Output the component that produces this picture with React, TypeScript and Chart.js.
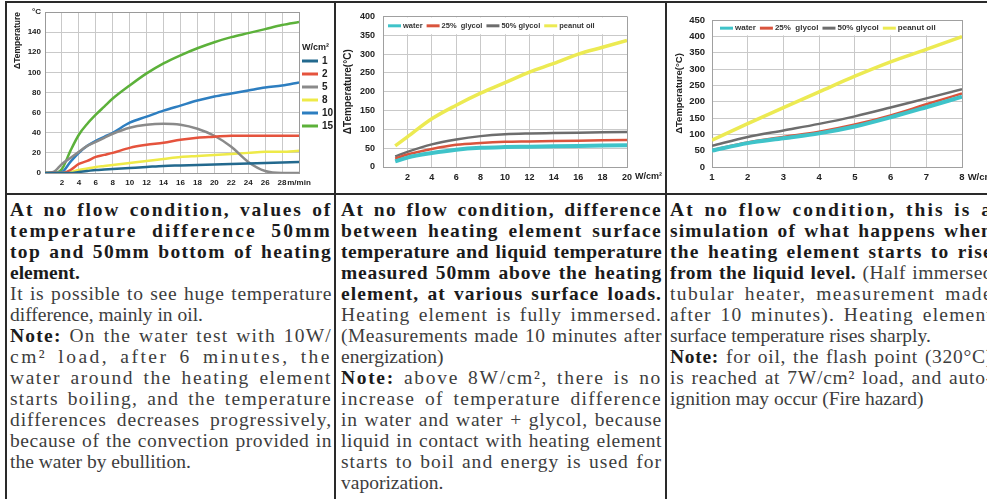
import React, { useEffect, useLayoutEffect, useRef } from "react";
import { Chart, registerables } from "chart.js";

Chart.register(...registerables);

const SANS = '"Liberation Sans", Arial, Helvetica, sans-serif';
const SERIF = '"Liberation Serif", "Times New Roman", serif';

// ---------- Chart 1: no flow, temperature difference vs time ----------
const flowTimes = [0, 1, 2, 3, 4, 5, 6, 7, 8, 10, 12, 14, 16, 18, 20, 22, 24, 26, 28, 30];
const loadLabels = ["1", "2", "5", "8", "10", "15"];
const load1 = [0, 0, 0, 0, 1, 2, 3, 3.5, 4, 5, 6, 7, 7.5, 8, 8.5, 9, 9.5, 10, 10.5, 11];
const load2 = [0, 0, 0, 3, 9, 12, 16, 18, 20, 25, 28, 30, 33, 35, 36, 37, 37, 37, 37, 37];
const load5 = [0, 1, 9, 15, 21, 27, 31, 35, 39, 45, 48, 49, 48, 44, 37, 26, 11, 2, 0, 0];
const load8 = [0, 0, 0, 1, 3, 4.5, 6, 7, 8, 10, 12, 14, 16, 17, 18, 19, 20, 21, 21, 22];
const load10 = [0, 0, 1, 11, 20, 27, 32, 36, 40, 50, 56, 62, 67, 72, 76, 79, 82, 85, 87, 90];
const load15 = [0, 0, 4, 22, 38, 49, 58, 66, 74, 87, 99, 109, 117, 124, 130, 135, 139, 143, 147, 150];

// ---------- Chart 2: fully immersed ----------
const immersedLoads = [1, 2, 4, 6, 8, 10, 12, 14, 16, 18, 20];
const liquidLabels = ["water", "25%  glycol", "50% glycol", "peanut oil"];
const immersedWater = [15, 25, 37, 46, 51, 53, 54, 55, 56, 57, 58];
const immersedGlycol25 = [22, 33, 48, 59, 64, 67, 68, 69, 70, 71, 72];
const immersedGlycol50 = [28, 40, 60, 73, 82, 87, 89, 90, 91, 92, 93];
const immersedOil = [56, 80, 128, 164, 196, 224, 252, 275, 300, 318, 336];

// ---------- Chart 3: half immersed ----------
const halfLoads = [1, 2, 3, 4, 5, 6, 7, 8];
const halfWater = [50, 73, 88, 103, 124, 152, 183, 215];
const halfGlycol25 = [52, 75, 92, 108, 130, 158, 192, 225];
const halfGlycol50 = [65, 92, 112, 132, 155, 182, 210, 238];
const halfOil = [82, 133, 182, 230, 278, 322, 360, 399];

// ---------- Text cells ----------
const col1Lines: [string, boolean][] = [
  ["**At no flow condition, values of**", true],
  ["**temperature difference 50mm**", true],
  ["**top and 50mm bottom of heating**", true],
  ["**element.**", false],
  ["It is possible to see huge temperature", true],
  ["difference, mainly in oil.", false],
  ["**Note:** On the water test with 10W/", true],
  ["cm² load, after 6 minutes, the", true],
  ["water around the heating element", true],
  ["starts boiling, and the temperature", true],
  ["differences decreases progressively,", true],
  ["because of the convection provided in", true],
  ["the water by ebullition.", false],
];
const col2Lines: [string, boolean][] = [
  ["**At no flow condition, difference**", true],
  ["**between heating element surface**", true],
  ["**temperature and liquid temperature**", true],
  ["**measured 50mm above the heating**", true],
  ["**element, at various surface loads.**", true],
  ["Heating element is fully immersed.", true],
  ["(Measurements made 10 minutes after", true],
  ["energization)", false],
  ["**Note:** above 8W/cm², there is no", true],
  ["increase of temperature difference", true],
  ["in water and water + glycol, because", true],
  ["liquid in contact with heating element", true],
  ["starts to boil and energy is used for", true],
  ["vaporization.", false],
];
const col3Lines: [string, boolean][] = [
  ["**At no flow condition, this is a**", true],
  ["**simulation of what happens when**", true],
  ["**the heating element starts to rise**", true],
  ["**from the liquid level.** (Half immersed", true],
  ["tubular heater, measurement made", true],
  ["after 10 minutes). Heating element", true],
  ["surface temperature rises sharply.", false],
  ["**Note:**  for oil, the flash point (320°C)", true],
  ["is reached at 7W/cm² load, and  auto-", true],
  ["ignition may occur (Fire hazard)", false],
];

// ---------- plugins ----------
const sideLegend = {
  id: "sideLegend",
  afterDraw(chart: any, _a: any, opts: any) {
    if (!opts || !opts.title) return;
    const { ctx, chartArea } = chart;
    const x0 = chartArea.right + opts.offsetX;
    ctx.save();
    ctx.textBaseline = "middle";
    ctx.textAlign = "left";
    ctx.fillStyle = "#222";
    ctx.font = `bold 9px ${SANS}`;
    ctx.fillText(opts.title, x0, opts.top);
    chart.data.datasets.forEach((ds: any, i: number) => {
      const y = opts.top + opts.rowGap * (i + 1);
      ctx.strokeStyle = ds.borderColor;
      ctx.lineWidth = 3;
      ctx.beginPath();
      ctx.moveTo(x0, y);
      ctx.lineTo(x0 + 16, y);
      ctx.stroke();
      ctx.font = `bold 10px ${SANS}`;
      ctx.fillStyle = "#222";
      ctx.fillText(ds.label, x0 + 20, y + 0.5);
    });
    ctx.restore();
  },
};

const bandLegend = {
  id: "bandLegend",
  beforeDatasetsDraw(chart: any, _a: any, opts: any) {
    if (!opts || opts.bandFrom === undefined) return;
    const { ctx, chartArea, scales } = chart;
    const yB = scales.y.getPixelForValue(opts.bandFrom);
    ctx.save();
    ctx.fillStyle = "#fff";
    ctx.fillRect(chartArea.left + 1, chartArea.top + 1, chartArea.right - chartArea.left - 2, yB - chartArea.top - 2);
    const y = (chartArea.top + yB) / 2;
    let x = chartArea.left + opts.startX;
    ctx.textBaseline = "middle";
    ctx.textAlign = "left";
    ctx.font = `bold ${opts.size}px ${SANS}`;
    chart.data.datasets.forEach((ds: any) => {
      ctx.strokeStyle = ds.borderColor;
      ctx.lineWidth = 3;
      ctx.beginPath();
      ctx.moveTo(x, y);
      ctx.lineTo(x + 13, y);
      ctx.stroke();
      x += 15;
      ctx.fillStyle = "#333";
      ctx.fillText(ds.label, x, y);
      x += ctx.measureText(ds.label).width + 4;
    });
    ctx.restore();
  },
};

const unitLabel = {
  id: "unitLabel",
  afterDraw(chart: any, _a: any, opts: any) {
    if (!opts || !opts.text) return;
    const { ctx } = chart;
    const xs = chart.scales.x;
    const ticks = xs.ticks;
    const last = ticks[ticks.length - 1];
    const px = xs.getPixelForValue(last.value);
    ctx.save();
    ctx.font = `bold ${opts.size}px ${SANS}`;
    const w = ctx.measureText(String(last.label)).width;
    ctx.fillStyle = "#222";
    ctx.textBaseline = "middle";
    ctx.textAlign = "left";
    ctx.fillText(opts.text, px + w / 2 + opts.gap, xs.top + opts.dy);
    ctx.restore();
  },
};

Chart.register(sideLegend, bandLegend, unitLabel);

const font = (size: number) => ({ family: SANS, size, weight: "bold" as const });

function gridColor(max: number, light: string, dark: string) {
  return (c: any) => (c.tick && c.tick.value === max ? dark : light);
}

function series(xs: number[], ys: number[]) {
  return xs.map((x, i) => ({ x, y: ys[i] }));
}

function line(label: string, data: any[], color: string, width: number) {
  return {
    label,
    data,
    borderColor: color,
    backgroundColor: color,
    borderWidth: width,
    pointRadius: 0,
    fill: false,
    cubicInterpolationMode: "monotone" as const,
  };
}

function chart1Config(): any {
  const colors = ["#23698e", "#e5533d", "#8a8a8a", "#eeea48", "#2d7ec0", "#5cb13a"];
  const values = [load1, load2, load5, load8, load10, load15];
  return {
    type: "line",
    data: {
      datasets: values.map((v, i) => line(loadLabels[i], series(flowTimes, v), colors[i], 2.5)),
    },
    options: {
      animation: false,
      responsive: false,
      events: [],
      layout: { padding: { top: 9, right: 35, left: 0, bottom: 0 } },
      plugins: {
        legend: { display: false },
        tooltip: { enabled: false },
        sideLegend: { title: "W/cm²", offsetX: 3, top: 45, rowGap: 13 },
      },
      scales: {
        x: {
          type: "linear",
          min: 0,
          max: 30,
          afterFit: (s: any) => { s.height = 20; },
          ticks: {
            stepSize: 2,
            autoSkip: false,
            maxRotation: 0,
            padding: 5,
            color: "#222",
            font: font(8),
            callback: (v: number) => (v === 0 ? "" : v === 30 ? "m/min" : String(v)),
          },
          grid: { color: gridColor(30, "#c9c9c9", "#9a9a9a"), drawTicks: false },
          border: { color: "#9a9a9a" },
        },
        y: {
          min: 0,
          max: 160,
          afterFit: (s: any) => { s.width = 38; },
          ticks: {
            stepSize: 20,
            padding: 4,
            color: "#222",
            font: font(8),
            callback: (v: number) => (v === 160 ? "°C" : String(v)),
          },
          grid: { color: gridColor(160, "#c9c9c9", "#9a9a9a"), drawTicks: false },
          border: { color: "#9a9a9a" },
          title: { display: true, text: "ΔTemperature", align: "end", color: "#222", font: font(8.5), padding: { top: 6, bottom: 0 } },
        },
      },
    },
  };
}

const liquidColors = ["#3fc3c9", "#d9543d", "#6d6d6d", "#ecea52"];
const liquidWidths = [4, 2.5, 2.5, 3.5];

function chart2Config(): any {
  const values = [immersedWater, immersedGlycol25, immersedGlycol50, immersedOil];
  return {
    type: "line",
    data: {
      datasets: values.map((v, i) => line(liquidLabels[i], series(immersedLoads, v), liquidColors[i], liquidWidths[i])),
    },
    options: {
      animation: false,
      responsive: false,
      events: [],
      layout: { padding: { top: 9, right: 38, left: 0, bottom: 0 } },
      plugins: {
        legend: { display: false },
        tooltip: { enabled: false },
        bandLegend: { bandFrom: 350, startX: 5, size: 7.5 },
        unitLabel: { text: "W/cm²", size: 9, gap: 3, dy: 10 },
      },
      scales: {
        x: {
          type: "linear",
          min: 0,
          max: 20,
          afterFit: (s: any) => { s.height = 26; },
          ticks: {
            stepSize: 2,
            autoSkip: false,
            maxRotation: 0,
            padding: 5,
            color: "#222",
            font: font(9),
            callback: (v: number) => (v === 0 ? "" : String(v)),
          },
          grid: { color: gridColor(20, "#c9c9c9", "#a0a0a0"), drawTicks: false },
          border: { color: "#a0a0a0" },
        },
        y: {
          min: 0,
          max: 400,
          afterFit: (s: any) => { s.width = 47; },
          ticks: { stepSize: 50, padding: 8, color: "#222", font: font(9) },
          grid: { color: gridColor(400, "#c9c9c9", "#a0a0a0"), drawTicks: false },
          border: { color: "#a0a0a0" },
          title: { display: true, text: "ΔTemperature(°C)", color: "#222", font: font(10), padding: { top: 6, bottom: 0 } },
        },
      },
    },
  };
}

function chart3Config(): any {
  const values = [halfWater, halfGlycol25, halfGlycol50, halfOil];
  return {
    type: "line",
    data: {
      datasets: values.map((v, i) => line(liquidLabels[i], series(halfLoads, v), liquidColors[i], liquidWidths[i])),
    },
    options: {
      animation: false,
      responsive: false,
      events: [],
      layout: { padding: { top: 17, right: 35, left: 0, bottom: 0 } },
      plugins: {
        legend: { display: false },
        tooltip: { enabled: false },
        bandLegend: { bandFrom: 400, startX: 8, size: 8 },
        unitLabel: { text: "W/cm²", size: 9.5, gap: 3, dy: 10 },
      },
      scales: {
        x: {
          type: "linear",
          min: 1,
          max: 8,
          afterFit: (s: any) => { s.height = 26; },
          ticks: { stepSize: 1, autoSkip: false, maxRotation: 0, padding: 5, color: "#222", font: font(9.5) },
          grid: { color: gridColor(8, "#c9c9c9", "#a0a0a0"), drawTicks: false },
          border: { color: "#a0a0a0" },
        },
        y: {
          min: 0,
          max: 450,
          afterFit: (s: any) => { s.width = 45; },
          ticks: { stepSize: 50, padding: 7, color: "#222", font: font(9.5) },
          grid: { color: gridColor(450, "#c9c9c9", "#a0a0a0"), drawTicks: false },
          border: { color: "#a0a0a0" },
          title: { display: true, text: "ΔTemperature(°C)", color: "#222", font: font(9.5), padding: { top: 7, bottom: 0 } },
        },
      },
    },
  };
}

function ChartBox({ left, top, width, height, config }: { left: number; top: number; width: number; height: number; config: () => any }) {
  const ref = useRef<HTMLCanvasElement>(null);
  useEffect(() => {
    const chart = new Chart(ref.current as HTMLCanvasElement, config());
    return () => chart.destroy();
  }, []);
  return (
    <div style={{ position: "absolute", left, top, width, height, overflow: "hidden" }}>
      <canvas ref={ref} width={width} height={height} style={{ display: "block", width, height }} />
    </div>
  );
}

function renderSegs(text: string) {
  return text.split("**").map((s, i) =>
    i % 2 === 1 ? (
      <b key={i} style={{ color: "#1b1b1b" }}>{s}</b>
    ) : (
      <span key={i}>{s}</span>
    )
  );
}

function TextColumn({ lines, left, width }: { lines: [string, boolean][]; left: number; width: number }) {
  const ref = useRef<HTMLDivElement>(null);
  useLayoutEffect(() => {
    const root = ref.current;
    if (!root) return;
    const rows = Array.from(root.children) as HTMLElement[];
    rows.forEach((row, i) => {
      if (!lines[i][1]) return;
      const inner = row.firstChild as HTMLElement;
      const natural = inner.getBoundingClientRect().width;
      const n = (inner.textContent || "").length;
      const extra = width - natural;
      if (extra > 0 && n > 1) {
        row.style.letterSpacing = Math.min(5, (extra * 0.8) / n) + "px";
      }
      row.style.textAlignLast = "justify";
    });
  }, []);
  return (
    <div ref={ref} style={{ position: "absolute", left, top: 199, width }}>
      {lines.map(([text], i) => (
        <div
          key={i}
          style={{
            height: 21,
            lineHeight: "21px",
            textAlign: "justify",
            textAlignLast: "left",
            whiteSpace: "nowrap",
          }}
        >
          <span>{renderSegs(text)}</span>
        </div>
      ))}
    </div>
  );
}

function Rule({ left, top, width, height }: { left: number; top: number; width: number; height: number }) {
  return <div style={{ position: "absolute", left, top, width, height, background: "#2a2a2a" }} />;
}

export default function App() {
  return (
    <div
      style={{
        position: "fixed",
        left: 0,
        top: 0,
        width: 987,
        height: 499,
        overflow: "hidden",
        background: "#fff",
        fontFamily: SERIF,
        fontSize: 19.5,
        color: "#3d3d3d",
      }}
    >
      <ChartBox left={7} top={3} width={327} height={190} config={chart1Config} />
      <ChartBox left={336} top={3} width={329} height={190} config={chart2Config} />
      <ChartBox left={667} top={3} width={330} height={190} config={chart3Config} />

      <TextColumn lines={col1Lines} left={10} width={322} />
      <TextColumn lines={col2Lines} left={341} width={321} />
      <TextColumn lines={col3Lines} left={670} width={323} />

      <Rule left={5} top={1} width={1000} height={2} />
      <Rule left={5} top={193} width={1000} height={2} />
      <Rule left={5} top={1} width={2} height={498} />
      <Rule left={334} top={1} width={2} height={498} />
      <Rule left={665} top={1} width={2} height={498} />
    </div>
  );
}
